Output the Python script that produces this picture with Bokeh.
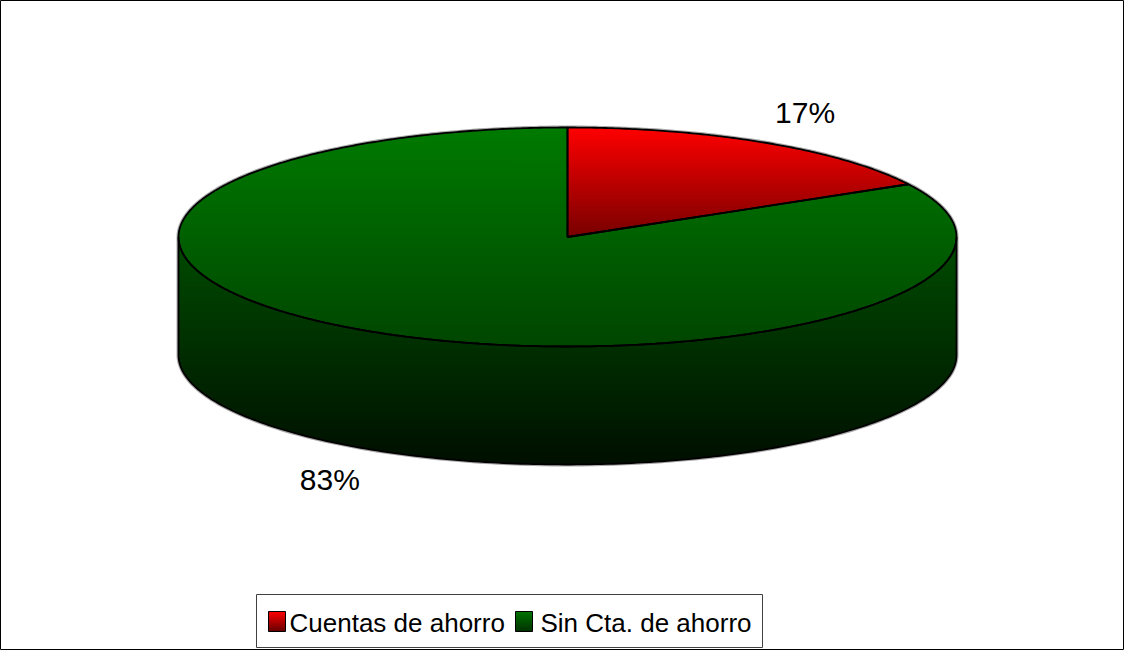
import numpy as np
from bokeh.plotting import figure
from bokeh.models import Range1d
from bokeh.core.properties import value
from bokeh.embed import file_html
from bokeh.resources import INLINE

# ---------------- data ----------------
categories = ["Cuentas de ahorro", "Sin Cta. de ahorro"]
shares = [17, 83]
pct_labels = ["17%", "83%"]

# ---------------- styles ----------------
top_grad = [("#ff0000", "#780000"), ("#007a00", "#004600")]
side_grad = [("#5a0000", "#200000"), ("#004c00", "#000f00")]
legend_grad = [("#ff0000", "#640000"), ("#007400", "#003000")]
FONT = "Liberation Sans"

W, H = 1124, 650
CX, CY, RX, RY, DEPTH = 567, 236.5, 389, 109.5, 118


def hex2rgb(h):
    h = h.lstrip("#")
    return np.array([int(h[i:i + 2], 16) for i in (0, 2, 4)], dtype=float)


def lerp(c0, c1, t):
    a, b = hex2rgb(c0), hex2rgb(c1)
    c = np.round(a + (b - a) * t).astype(int)
    return "#%02x%02x%02x" % tuple(c)


def clip(pts, yl, keep_ge):
    def inside(pt):
        return pt[1] >= yl if keep_ge else pt[1] <= yl

    def inter(a, b):
        t = (yl - a[1]) / (b[1] - a[1])
        return (a[0] + t * (b[0] - a[0]), yl)

    out = []
    n = len(pts)
    for i in range(n):
        cur, prev = pts[i], pts[i - 1]
        ci, pi = inside(cur), inside(prev)
        if ci:
            if not pi:
                out.append(inter(prev, cur))
            out.append(cur)
        elif pi:
            out.append(inter(prev, cur))
    return out


def gradient_bands(xs, ys, c0, c1, n):
    pts = list(zip(xs, ys))
    ymin, ymax = min(ys), max(ys)
    edges = np.linspace(ymin, ymax, n + 1)
    bx, by, bc = [], [], []
    for i in range(n):
        hi = min(edges[i + 1] + 0.8, ymax)
        poly = clip(clip(pts, edges[i], True), hi, False)
        if len(poly) >= 3:
            bx.append([q[0] for q in poly])
            by.append([q[1] for q in poly])
            mid = 0.5 * (edges[i] + edges[i + 1])
            bc.append(lerp(c0, c1, (mid - ymin) / (ymax - ymin)))
    return bx, by, bc


def ex(th):
    return CX + RX * np.cos(np.radians(th))


def ey(th):
    return CY - RY * np.sin(np.radians(th))


p = figure(width=W, height=H, x_range=Range1d(0, W), y_range=Range1d(H, 0),
           output_backend="svg", toolbar_location=None,
           x_axis_location=None, y_axis_location=None, min_border=0)
p.grid.visible = False
p.outline_line_color = "black"
p.outline_line_width = 1
p.background_fill_color = "white"
p.border_fill_color = "white"

# slice angles (start at 12 o'clock, clockwise)
total = float(sum(shares))
slices = []
start = 90.0
for v in shares:
    sweep = 360.0 * v / total
    slices.append((start, start - sweep))
    start -= sweep

# silhouette halo
th_back = np.linspace(0, 180, 200)
th_front = np.linspace(180, 360, 200)
sil_x = list(ex(th_back)) + list(ex(th_front))
sil_y = list(ey(th_back)) + list(ey(th_front) + DEPTH)
p.patch(sil_x, sil_y, fill_alpha=0, line_color="#a8a8a8", line_width=4)

# side faces (front half only)
side_polys = []
for i, (ts, te) in enumerate(slices):
    for k in (-2, -1, 0, 1):
        a = max(te, 180 + 360 * k)
        b = min(ts, 360 + 360 * k)
        if b > a:
            th = np.linspace(a, b, 200)
            sx = list(ex(th)) + list(ex(th[::-1]))
            sy = list(ey(th)) + list(ey(th[::-1]) + DEPTH)
            side_polys.append((sx, sy))
            bx, by, bc = gradient_bands(sx, sy, side_grad[i][0], side_grad[i][1], 90)
            p.patches(xs=bx, ys=by, fill_color=bc, line_alpha=0)

# top faces
top_polys = []
for i, (ts, te) in enumerate(slices):
    th = np.linspace(ts, te, max(int(abs(ts - te) * 2), 10))
    wx = [CX] + list(ex(th))
    wy = [CY] + list(ey(th))
    top_polys.append((wx, wy))
    nb = max(int((max(wy) - min(wy)) / 2.5), 8)
    bx, by, bc = gradient_bands(wx, wy, top_grad[i][0], top_grad[i][1], nb)
    p.patches(xs=bx, ys=by, fill_color=bc, line_alpha=0)

# outlines
for sx, sy in side_polys:
    p.patch(sx, sy, fill_alpha=0, line_color="black", line_width=1.8)
for wx, wy in top_polys:
    p.patch(wx, wy, fill_alpha=0, line_color="black", line_width=1.8)

# percentage labels
lx, ly = [], []
for ts, te in slices:
    mid = np.radians(0.5 * (ts + te))
    lx.append(CX + 1.2 * RX * np.cos(mid))
    yy = CY - 1.32 * RY * np.sin(mid)
    if np.sin(mid) < 0:
        yy += DEPTH
    ly.append(yy)
p.text(x=lx, y=ly, text=pct_labels, text_align="center", text_baseline="middle",
       text_font=value(FONT), text_font_size="30px", text_color="black")

# legend
p.quad(left=[256], right=[762], top=[594], bottom=[647], fill_color="white",
       line_color="#404040", line_width=1)
sq_left = [268, 515]
txt_left = [289, 540]
for i, cat in enumerate(categories):
    qx = [sq_left[i], sq_left[i] + 17, sq_left[i] + 17, sq_left[i]]
    qy = [611, 611, 631, 631]
    bx, by, bc = gradient_bands(qx, qy, legend_grad[i][0], legend_grad[i][1], 10)
    p.patches(xs=bx, ys=by, fill_color=bc, line_alpha=0)
    p.patch(qx, qy, fill_alpha=0, line_color="black", line_width=1)
p.text(x=txt_left, y=[622, 622], text=categories, text_align="left",
       text_baseline="middle", text_font=value(FONT), text_font_size="26px",
       text_color="black")

open("out.html", "w").write(file_html(p, INLINE))
